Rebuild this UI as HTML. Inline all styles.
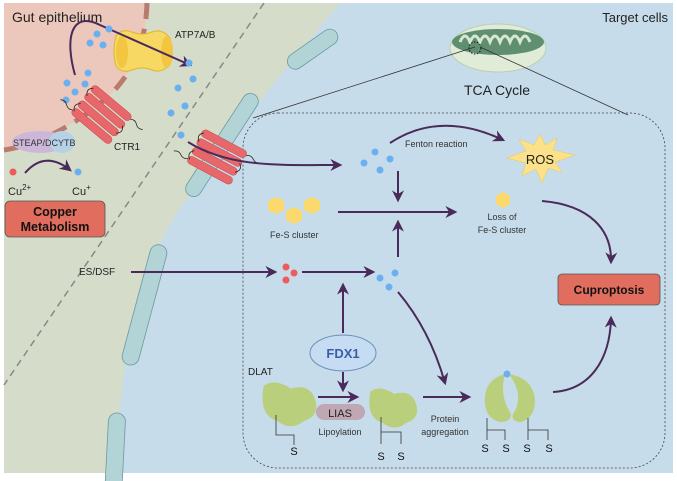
<!DOCTYPE html>
<html><head><meta charset="utf-8"><style>
html,body{margin:0;padding:0;background:#fff}
svg{display:block;font-family:"Liberation Sans",sans-serif}
</style></head><body>
<svg width="677" height="481" viewBox="0 0 677 481" xmlns="http://www.w3.org/2000/svg">
<defs>
<marker id="ah" viewBox="0 0 10 10" refX="8" refY="5" markerWidth="6" markerHeight="6" orient="auto-start-reverse">
<path d="M0,0 L10,5 L0,10 L3,5 z" fill="#4a2a5a"/></marker>
<g id="rec">
<rect x="0" y="-4" width="50" height="8" rx="4" fill="#e8676a" stroke="#c24a4e" stroke-width="0.5"/>
<rect x="0" y="6" width="50" height="8" rx="4" fill="#e8676a" stroke="#c24a4e" stroke-width="0.5"/>
<rect x="0" y="16" width="50" height="8" rx="4" fill="#e8676a" stroke="#c24a4e" stroke-width="0.5"/>
<rect x="0" y="26" width="50" height="8" rx="4" fill="#e8676a" stroke="#c24a4e" stroke-width="0.5"/>
<path d="M2,0 q-6,5 0,10 M48,10 q6,5 0,10 M2,20 q-6,5 0,10 M50,0 q4,-3 8,0 q4,3 8,0 M0,30 q-4,3 -8,0 q-4,-3 -8,0" fill="none" stroke="#222" stroke-width="0.8"/>
</g>
<g id="prot"><path d="M-18,-12 q8,-6 20,2 q14,-4 18,8 q4,12 -8,16 q-10,8 -20,0 q-14,-4 -10,-26z" fill="#b9cf7c"/></g>
</defs>
<rect x="4" y="3" width="669" height="470" fill="#d6dcca"/>
<path d="M4,3 L147,3 C146,40 135,70 110,95 C80,122 40,145 4,150 Z" fill="#ecc8bc"/>
<path d="M147,3 C146,40 135,70 110,95 C80,122 40,145 4,150" fill="none" stroke="#b97b6f" stroke-width="5" stroke-dasharray="16,10"/>
<path d="M340,3 L673,3 L673,473 L117,473 C118,420 122,380 128,350 C140,290 160,230 190,195 C220,150 260,100 340,3 Z" fill="#c7dcea"/>
<line x1="264" y1="3" x2="4" y2="385" stroke="#888" stroke-width="1.5" stroke-dasharray="7,5"/>
<g fill="#b2d4d6" stroke="#6a9a9e" stroke-width="0.8">
<rect x="-8" y="-20" width="16" height="58" rx="8" transform="translate(320,44) rotate(55)"/>
<rect x="-8" y="-60" width="16" height="120" rx="8" transform="translate(222,145) rotate(33)"/>
<rect x="-9" y="-62" width="17" height="124" rx="8.5" transform="translate(145,305) rotate(15)"/>
<rect x="-9" y="-35" width="17" height="80" rx="8.5" transform="translate(116,448) rotate(3)"/>
</g>
<rect x="243" y="113" width="422" height="355" rx="35" fill="none" stroke="#444" stroke-width="0.8" stroke-dasharray="2,2"/>
<!-- mitochondrion -->
<ellipse cx="498" cy="48" rx="48" ry="24" fill="#e0ecd8" stroke="#b8cfb0"/>
<ellipse cx="498" cy="42" rx="46" ry="13" fill="#5f8f70"/>
<path d="M460,42 q5,-12 10,0 q5,-12 10,0 q5,-12 10,0 q5,-12 10,0 q5,-12 10,0 q5,-12 10,0 q5,-12 10,0" fill="none" stroke="#d8e8d0" stroke-width="3"/>
<circle cx="475" cy="48" r="6" fill="none" stroke="#111" stroke-dasharray="1.5,1.5"/>
<line x1="475" y1="47" x2="253" y2="118" stroke="#333" stroke-width="0.8"/>
<line x1="480" y1="47" x2="628" y2="115" stroke="#333" stroke-width="0.8"/>
<text x="497" y="95" font-size="14" text-anchor="middle" fill="#222">TCA Cycle</text>
<text x="668" y="22" font-size="13" text-anchor="end" fill="#222">Target cells</text>
<text x="12" y="22" font-size="14" fill="#222">Gut epithelium</text>
<!-- ATP7A -->
<path d="M116,36 q6,-8 16,-4 q10,4 20,0 q10,-4 18,6 q4,14 0,26 q-8,10 -18,6 q-10,-4 -20,0 q-10,4 -16,-4 q-4,-14 0,-30z" fill="#f7d862" stroke="#e0b52a"/>
<ellipse cx="122" cy="52" rx="6" ry="16" fill="#f2c640"/>
<ellipse cx="167" cy="52" rx="6" ry="16" fill="#f2c640"/>
<text x="175" y="38" font-size="10" fill="#222">ATP7A/B</text>
<path d="M75,75 C65,40 70,10 100,25 L190,65" fill="none" stroke="#4a2a5a" stroke-width="2" marker-end="url(#ah)"/>
<g fill="#6ab0f0">
<circle cx="97" cy="34" r="3.5"/><circle cx="109" cy="29" r="3.5"/><circle cx="90" cy="43" r="3.5"/><circle cx="103" cy="45" r="3.5"/>
<circle cx="88" cy="73" r="3.5"/><circle cx="67" cy="83" r="3.5"/><circle cx="85" cy="84" r="3.5"/><circle cx="75" cy="92" r="3.5"/><circle cx="66" cy="100" r="3.5"/>
<circle cx="189" cy="63" r="3.5"/><circle cx="193" cy="79" r="3.5"/><circle cx="178" cy="88" r="3.5"/><circle cx="185" cy="106" r="3.5"/><circle cx="171" cy="113" r="3.5"/><circle cx="181" cy="135" r="3.5"/>
<circle cx="78" cy="172" r="3.5"/>
<circle cx="364" cy="163" r="3.5"/><circle cx="375" cy="152" r="3.5"/><circle cx="390" cy="159" r="3.5"/><circle cx="380" cy="170" r="3.5"/>
<circle cx="380" cy="278" r="3.5"/><circle cx="395" cy="273" r="3.5"/><circle cx="389" cy="287" r="3.5"/>
</g>
<use href="#rec" transform="translate(92,87) rotate(40)"/>
<use href="#rec" transform="translate(202,132) rotate(28)"/>
<text x="114" y="150" font-size="10" fill="#222">CTR1</text>
<ellipse cx="40" cy="142" rx="28" ry="11" fill="#cdb7d8"/>
<ellipse cx="62" cy="142" rx="13" ry="11" fill="#b6d2e6"/>
<text x="13" y="146" font-size="9" fill="#333">STEAP/DCYTB</text>
<circle cx="13" cy="172" r="3.5" fill="#ef5a5a"/>
<path d="M25,173 Q45,150 70,170" fill="none" stroke="#4a2a5a" stroke-width="2" marker-end="url(#ah)"/>
<text x="8" y="195" font-size="11" fill="#222">Cu<tspan font-size="8" dy="-5">2+</tspan></text>
<text x="72" y="195" font-size="11" fill="#222">Cu<tspan font-size="8" dy="-5">+</tspan></text>
<rect x="5" y="201" width="100" height="36" rx="5" fill="#e06d5d" stroke="#555" stroke-width="0.8"/>
<text x="55" y="216" font-size="12.5" font-weight="bold" text-anchor="middle" fill="#111">Copper</text>
<text x="55" y="231" font-size="12.5" font-weight="bold" text-anchor="middle" fill="#111">Metabolism</text>
<path d="M188,142 C230,168 280,165 340,165" fill="none" stroke="#4a2a5a" stroke-width="2" marker-end="url(#ah)"/>
<path d="M390,143 Q440,110 503,140" fill="none" stroke="#4a2a5a" stroke-width="2" marker-end="url(#ah)"/>
<text x="405" y="147" font-size="9" fill="#333">Fenton reaction</text>
<polygon points="540,134 545,145 557,138 553,150 575,155 555,162 562,172 548,168 542,183 536,169 522,176 526,163 507,158 526,151 519,139 534,145" fill="#fbe28a" stroke="#f0c84a" stroke-width="0.5"/>
<text x="540" y="164" font-size="13" text-anchor="middle" fill="#222">ROS</text>
<line x1="398" y1="171" x2="398" y2="200" stroke="#4a2a5a" stroke-width="2" marker-end="url(#ah)"/>
<g fill="#fcd96c">
<polygon points="276,197 284,201 284,210 276,214 268,210 268,201"/>
<polygon points="312,197 320,201 320,210 312,214 304,210 304,201"/>
<polygon points="294,207 302,211 302,220 294,224 286,220 286,211"/>
<polygon points="503,192 510,196 510,204 503,208 496,204 496,196"/>
</g>
<text x="270" y="238" font-size="9" fill="#333">Fe-S cluster</text>
<line x1="338" y1="212" x2="455" y2="212" stroke="#4a2a5a" stroke-width="2" marker-end="url(#ah)"/>
<text x="502" y="220" font-size="9" text-anchor="middle" fill="#333">Loss of</text>
<text x="502" y="233" font-size="9" text-anchor="middle" fill="#333">Fe-S cluster</text>
<path d="M542,201 C590,205 612,230 611,262" fill="none" stroke="#4a2a5a" stroke-width="2" marker-end="url(#ah)"/>
<rect x="558" y="274" width="102" height="31" rx="4" fill="#e06d5d" stroke="#555" stroke-width="0.8"/>
<text x="609" y="294" font-size="12" font-weight="bold" text-anchor="middle" fill="#111">Cuproptosis</text>
<text x="79" y="275" font-size="10" fill="#222">ES/DSF</text>
<line x1="131" y1="272" x2="275" y2="272" stroke="#4a2a5a" stroke-width="2" marker-end="url(#ah)"/>
<g fill="#ef5a5a"><circle cx="286" cy="267" r="3.5"/><circle cx="294" cy="273" r="3.5"/><circle cx="286" cy="280" r="3.5"/></g>
<line x1="302" y1="272" x2="373" y2="272" stroke="#4a2a5a" stroke-width="2" marker-end="url(#ah)"/>
<line x1="398" y1="257" x2="398" y2="222" stroke="#4a2a5a" stroke-width="2" marker-end="url(#ah)"/>
<line x1="343" y1="333" x2="343" y2="285" stroke="#4a2a5a" stroke-width="2" marker-end="url(#ah)"/>
<path d="M398,292 Q430,330 445,383" fill="none" stroke="#4a2a5a" stroke-width="2" marker-end="url(#ah)"/>
<ellipse cx="343" cy="353" rx="33" ry="18" fill="#c6dcf2" stroke="#6b8fb5"/>
<text x="343" y="358" font-size="13" font-weight="bold" text-anchor="middle" fill="#3b5ea8">FDX1</text>
<line x1="343" y1="372" x2="343" y2="390" stroke="#4a2a5a" stroke-width="2" marker-end="url(#ah)"/>
<text x="248" y="375" font-size="10" fill="#222">DLAT</text>
<use href="#prot" transform="translate(288,402) scale(1.35)"/>
<use href="#prot" transform="translate(392,406) scale(1.2)"/>
<line x1="318" y1="397" x2="357" y2="397" stroke="#4a2a5a" stroke-width="2" marker-end="url(#ah)"/>
<rect x="316" y="404" width="49" height="16" rx="8" fill="#bfa7b4"/>
<text x="340" y="417" font-size="11" text-anchor="middle" fill="#222">LIAS</text>
<text x="340" y="435" font-size="9" text-anchor="middle" fill="#333">Lipoylation</text>
<line x1="423" y1="397" x2="469" y2="397" stroke="#4a2a5a" stroke-width="2" marker-end="url(#ah)"/>
<text x="445" y="422" font-size="9" text-anchor="middle" fill="#333">Protein</text>
<text x="445" y="435" font-size="9" text-anchor="middle" fill="#333">aggregation</text>
<path d="M505,374 q-22,6 -20,30 q2,16 16,18 q10,0 10,-8 q-12,-18 -6,-40z" fill="#b9cf7c"/>
<path d="M509,374 q24,4 26,26 q0,18 -14,22 q-10,0 -8,-8 q12,-18 -4,-40z" fill="#b9cf7c"/>
<circle cx="507" cy="374" r="3.5" fill="#6ab0f0"/>
<g fill="none" stroke="#333" stroke-width="0.8">
<path d="M276,415 v20 h18 v10"/>
<path d="M381,417 v22 M381,432 h20 v12 M381,432 v12"/>
<path d="M487,418 v12 h18 v10 M487,430 v10"/>
<path d="M528,418 v12 h20 v10 M528,430 v10"/>
</g>
<g font-size="11" fill="#111" text-anchor="middle">
<text x="294" y="455">S</text><text x="381" y="460">S</text><text x="401" y="460">S</text>
<text x="485" y="452">S</text><text x="506" y="452">S</text><text x="527" y="452">S</text><text x="549" y="452">S</text>
</g>
<path d="M553,392 C590,390 610,360 611,318" fill="none" stroke="#4a2a5a" stroke-width="2" marker-end="url(#ah)"/>
</svg>
</body></html>
